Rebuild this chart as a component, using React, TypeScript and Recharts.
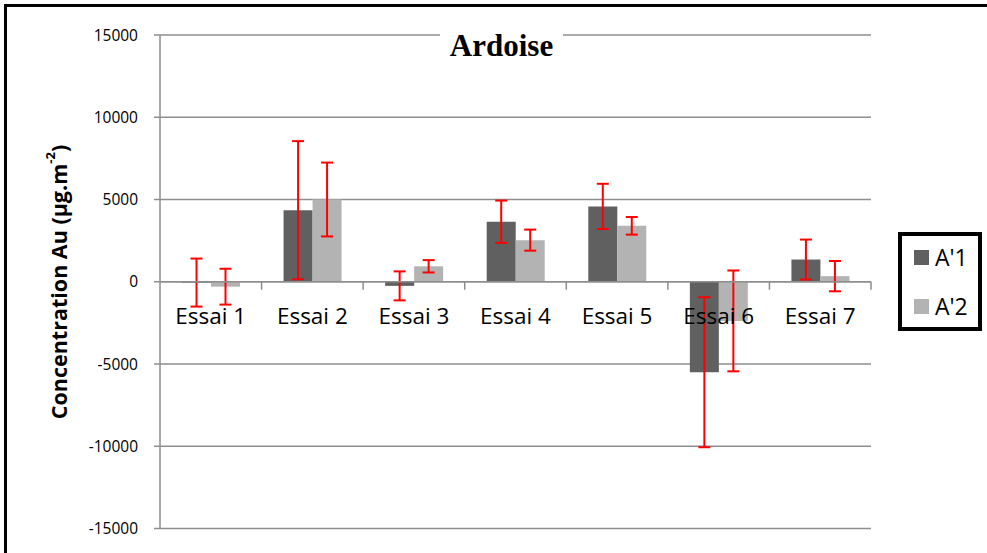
import React from 'react';
import {
  BarChart,
  Bar,
  XAxis,
  YAxis,
  CartesianGrid,
  ErrorBar,
  Legend,
  ReferenceLine,
  Label,
} from 'recharts';

const categories = ['Essai 1', 'Essai 2', 'Essai 3', 'Essai 4', 'Essai 5', 'Essai 6', 'Essai 7'];
const a1Values = [-50, 4350, -250, 3650, 4580, -5500, 1350];
const a2Values = [-300, 5000, 940, 2530, 3400, -2380, 340];
const a1Errors = [1460, 4200, 880, 1285, 1375, 4560, 1215];
const a2Errors = [1090, 2245, 375, 640, 535, 3065, 920];
const yTicks = [-15000, -10000, -5000, 0, 5000, 10000, 15000];

const data = categories.map((name, i) => ({
  name,
  a1: a1Values[i],
  a2: a2Values[i],
  errA1: a1Errors[i],
  errA2: a2Errors[i],
}));

const W = 987;
const H = 553;
const MARGIN = { top: 35, right: 116, left: 0, bottom: 0 };
const Y_AXIS_W = 160;
const X_AXIS_H = 24.5;
const PLOT_TOP = MARGIN.top;
const PLOT_BOTTOM = H - X_AXIS_H;
// domain is symmetric, so zero sits in the middle of the plot
const ZERO_Y = (PLOT_TOP + PLOT_BOTTOM) / 2;
const BAND = (W - MARGIN.right - Y_AXIS_W) / categories.length;

const AXIS_GRAY = '#8e8e8e';
const FONT = '"Open Sans", sans-serif';

const CategoryTick = (props: any) => {
  const { x, payload } = props;
  return (
    <g>
      <text x={x} y={ZERO_Y + 42} textAnchor="middle" fontSize={22.5} fontFamily={FONT} fill="#000">
        {payload.value}
      </text>
      <line x1={x + BAND / 2} x2={x + BAND / 2} y1={ZERO_Y} y2={ZERO_Y + 8} stroke={AXIS_GRAY} strokeWidth={1.5} />
    </g>
  );
};

const YTitle = () => (
  <text
    x={58}
    y={282}
    transform="rotate(-90, 58, 282)"
    textAnchor="middle"
    dominantBaseline="central"
    fontSize={21.5}
    fontWeight="bold"
    fontFamily={FONT}
    fill="#000"
  >
    Concentration Au (µg.m
    <tspan dy={-8} fontSize={13}>-2</tspan>
    <tspan dy={8}>)</tspan>
  </text>
);

const LegendBox = (props: any) => {
  const { payload } = props;
  return (
    <div
      style={{
        boxSizing: 'border-box',
        width: 84,
        height: 99,
        border: '4px solid #000',
        background: '#fff',
        padding: '14px 0 0 12px',
        fontFamily: FONT,
      }}
    >
      {(payload || []).map((p: any) => (
        <div key={p.value} style={{ display: 'flex', alignItems: 'center', height: 15, marginBottom: 34 }}>
          <div style={{ width: 15, height: 15, background: p.color, marginRight: 6 }} />
          <span style={{ fontSize: 23, lineHeight: '15px', color: '#000' }}>{p.value}</span>
        </div>
      ))}
    </div>
  );
};

export default function App() {
  return (
    <div style={{ position: 'absolute', left: 0, top: 0, width: W, height: H, background: '#fff', overflow: 'hidden' }}>
      <div
        style={{
          position: 'absolute',
          left: 4,
          top: 4,
          width: W,
          height: H,
          borderLeft: '3px solid #000',
          borderTop: '3px solid #000',
        }}
      />
      <BarChart width={W} height={H} data={data} margin={MARGIN} barGap={0} barSize={29}>
        <CartesianGrid vertical={false} stroke={AXIS_GRAY} strokeWidth={1.5} />
        <XAxis
          dataKey="name"
          height={X_AXIS_H}
          axisLine={false}
          tickLine={false}
          tick={<CategoryTick />}
          interval={0}
        />
        <YAxis
          width={Y_AXIS_W}
          domain={[-15000, 15000]}
          ticks={yTicks}
          allowDataOverflow
          axisLine={{ stroke: AXIS_GRAY, strokeWidth: 1.5 }}
          tickLine={{ stroke: AXIS_GRAY, strokeWidth: 1.5 }}
          tickSize={6}
          tickMargin={16}
          tick={{ fontSize: 15.5, fill: '#000', fontFamily: FONT }}
        >
          <Label content={<YTitle />} />
        </YAxis>
        <Legend
          layout="vertical"
          align="center"
          verticalAlign="middle"
          content={<LegendBox />}
          wrapperStyle={{ left: 898, top: 232, width: 84, height: 99 }}
        />
        <Bar dataKey="a1" name="A'1" fill="#606060" isAnimationActive={false}>
          <ErrorBar dataKey="errA1" width={6} stroke="#ff0000" strokeWidth={2} direction="y" />
        </Bar>
        <Bar dataKey="a2" name="A'2" fill="#b3b3b3" isAnimationActive={false}>
          <ErrorBar dataKey="errA2" width={6} stroke="#ff0000" strokeWidth={2} direction="y" />
        </Bar>
        <ReferenceLine y={0} stroke={AXIS_GRAY} strokeWidth={1.5} />
      </BarChart>
      <div
        style={{
          position: 'absolute',
          left: 440,
          top: 30,
          width: 123,
          height: 31,
          background: '#fff',
          textAlign: 'center',
          fontFamily: '"Liberation Serif", serif',
          fontWeight: 'bold',
          fontSize: 31,
          lineHeight: '31px',
          color: '#000',
        }}
      >
        Ardoise
      </div>
    </div>
  );
}
